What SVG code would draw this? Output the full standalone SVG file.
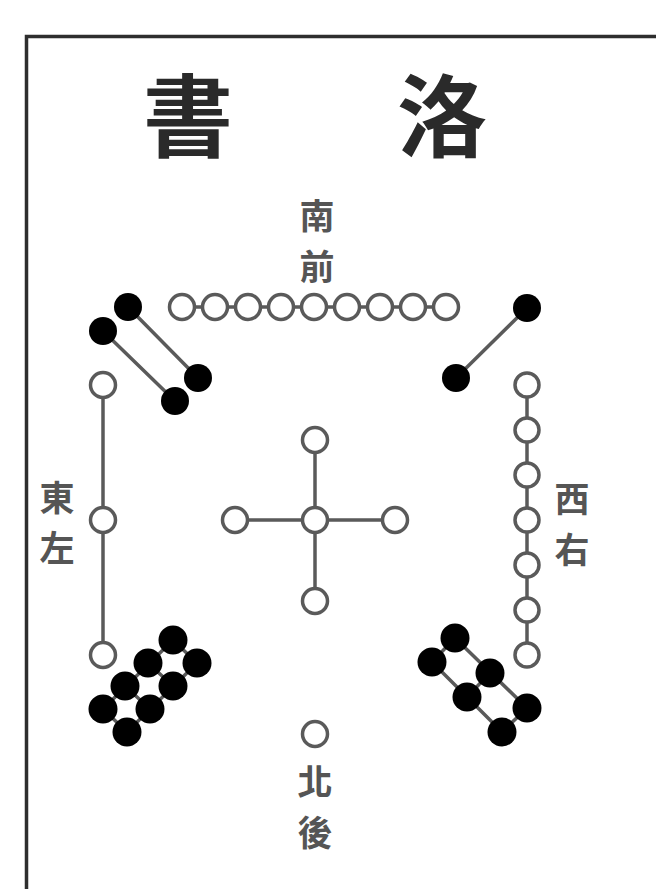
<svg xmlns="http://www.w3.org/2000/svg" width="656" height="889" viewBox="0 0 656 889">
<style>
.frame{fill:none;stroke:#2e2e2e;stroke-width:3.5}
.ln{stroke:#5a5a5a;stroke-width:3.5;fill:none;stroke-linecap:round}
.w{fill:#fff;stroke:#5a5a5a;stroke-width:3.5}
.b{fill:#000}
.title{font-family:"Noto Sans CJK TC","Noto Sans CJK SC",sans-serif;font-size:90px;font-weight:700;fill:#2a2a2a;text-anchor:middle}
.lab{font-family:"Noto Sans CJK TC","Noto Sans CJK SC",sans-serif;font-size:35px;font-weight:700;fill:#555;text-anchor:middle}
</style>
<rect x="0" y="0" width="656" height="889" fill="#fff"/>
<path class="frame" d="M26.5 889 V36.5 H656"/>
<g id="title">
<text class="title" x="188" y="150">書</text>
<text class="title" x="442" y="150">洛</text>
</g>
<g id="labels">
<text class="lab" x="317" y="229">南</text>
<text class="lab" x="317" y="280">前</text>
<text class="lab" x="57" y="511">東</text>
<text class="lab" x="57" y="561">左</text>
<text class="lab" x="572" y="512">西</text>
<text class="lab" x="572" y="563">右</text>
<text class="lab" x="315" y="795">北</text>
<text class="lab" x="315" y="846">後</text>
</g>
<g id="connectors">
<line class="ln" x1="182" y1="307" x2="446" y2="307"/>
<line class="ln" x1="128" y1="307" x2="198" y2="378"/>
<line class="ln" x1="103" y1="331" x2="175" y2="401"/>
<line class="ln" x1="527" y1="308" x2="456" y2="378"/>
<line class="ln" x1="103" y1="385" x2="103" y2="655"/>
<line class="ln" x1="527" y1="385" x2="527" y2="655"/>
<line class="ln" x1="315" y1="440" x2="315" y2="601"/>
<line class="ln" x1="235" y1="520" x2="395" y2="520"/>
<path class="ln" d="M173 640 L103 709 M197 663 L127 732 M173 640 L197 663 M148 663 L173 686 M125 686 L150 709 M103 709 L127 732"/>
<path class="ln" d="M455 638 L527 708 M432 662 L502 732 M455 638 L432 662 M490 673 L467 697 M527 708 L502 732"/>
</g>
<g id="n9-south">
<circle class="w" cx="182" cy="307" r="12.5"/>
<circle class="w" cx="215" cy="307" r="12.5"/>
<circle class="w" cx="248" cy="307" r="12.5"/>
<circle class="w" cx="281" cy="307" r="12.5"/>
<circle class="w" cx="314" cy="307" r="12.5"/>
<circle class="w" cx="347" cy="307" r="12.5"/>
<circle class="w" cx="380" cy="307" r="12.5"/>
<circle class="w" cx="413" cy="307" r="12.5"/>
<circle class="w" cx="446" cy="307" r="12.5"/>
</g>
<g id="n4-southeast">
<circle class="b" cx="128" cy="307" r="14"/>
<circle class="b" cx="103" cy="331" r="14"/>
<circle class="b" cx="198" cy="378" r="14"/>
<circle class="b" cx="175" cy="401" r="14"/>
</g>
<g id="n2-southwest">
<circle class="b" cx="527" cy="308" r="14"/>
<circle class="b" cx="456" cy="378" r="14"/>
</g>
<g id="n3-east">
<circle class="w" cx="103" cy="385" r="12.5"/>
<circle class="w" cx="103" cy="520" r="12.5"/>
<circle class="w" cx="103" cy="655" r="12.5"/>
</g>
<g id="n7-west">
<circle class="w" cx="527" cy="385" r="12"/>
<circle class="w" cx="527" cy="430" r="12"/>
<circle class="w" cx="527" cy="475" r="12"/>
<circle class="w" cx="527" cy="520" r="12"/>
<circle class="w" cx="527" cy="565" r="12"/>
<circle class="w" cx="527" cy="610" r="12"/>
<circle class="w" cx="527" cy="655" r="12"/>
</g>
<g id="n5-center">
<circle class="w" cx="315" cy="440" r="12.5"/>
<circle class="w" cx="315" cy="520" r="12.5"/>
<circle class="w" cx="315" cy="601" r="12.5"/>
<circle class="w" cx="235" cy="520" r="12.5"/>
<circle class="w" cx="395" cy="520" r="12.5"/>
</g>
<g id="n8-northeast">
<circle class="b" cx="173" cy="640" r="14.5"/>
<circle class="b" cx="148" cy="663" r="14.5"/>
<circle class="b" cx="125" cy="686" r="14.5"/>
<circle class="b" cx="103" cy="709" r="14.5"/>
<circle class="b" cx="197" cy="663" r="14.5"/>
<circle class="b" cx="173" cy="686" r="14.5"/>
<circle class="b" cx="150" cy="709" r="14.5"/>
<circle class="b" cx="127" cy="732" r="14.5"/>
</g>
<g id="n6-northwest">
<circle class="b" cx="455" cy="638" r="14.5"/>
<circle class="b" cx="490" cy="673" r="14.5"/>
<circle class="b" cx="527" cy="708" r="14.5"/>
<circle class="b" cx="432" cy="662" r="14.5"/>
<circle class="b" cx="467" cy="697" r="14.5"/>
<circle class="b" cx="502" cy="732" r="14.5"/>
</g>
<g id="n1-north">
<circle class="w" cx="315" cy="734" r="12.5"/>
</g>
</svg>
